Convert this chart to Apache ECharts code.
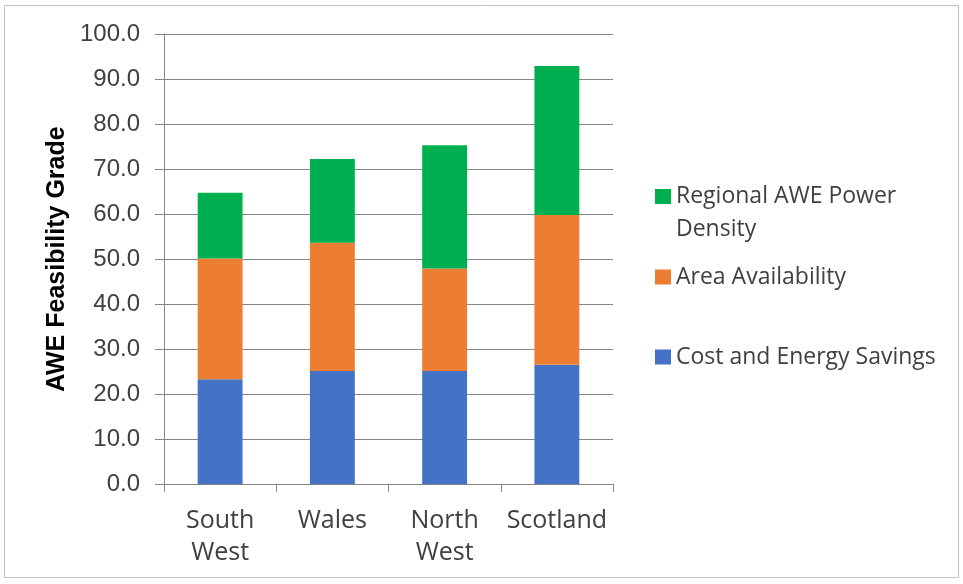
<!DOCTYPE html>
<html>
<head>
<meta charset="utf-8">
<script src="https://cdn.jsdelivr.net/npm/echarts@6/dist/echarts.min.js"></script>
<style>html,body{margin:0;padding:0;background:#fff;}#c{width:963px;height:584px;}</style>
</head>
<body>
<div id="c"></div>
<script>
const categories = ['South\nWest', 'Wales', 'North\nWest', 'Scotland'];
const costEnergy = [23.3, 25.1, 25.1, 26.5];
const areaAvail = [26.8, 28.5, 22.8, 33.3];
const powerDensity = [14.6, 18.6, 27.4, 33.1];
const yTicks = { min: 0, max: 100, interval: 10 };

const chart = echarts.init(document.getElementById('c'));
const legendText = { fontFamily: 'Open Sans', fontSize: 23, color: '#404040', lineHeight: 33 };
const legendBase = { left: 655, padding: 0, itemWidth: 16, itemHeight: 15, icon: 'rect', textStyle: legendText };
chart.setOption({
  animation: false,
  graphic: [{ type: 'rect', shape: { x: 4.5, y: 5.5, width: 954, height: 572 }, style: { fill: 'none', stroke: '#bfbfbf', lineWidth: 1 }, z: -1 }],
  grid: { left: 164, right: 350, top: 34, bottom: 100 },
  legend: [
    Object.assign({}, legendBase, { data: ['Regional AWE Power Density'], top: 147, formatter: () => '\nRegional AWE Power\nDensity' }),
    Object.assign({}, legendBase, { data: ['Area Availability'], top: 260.5 }),
    Object.assign({}, legendBase, { data: ['Cost and Energy Savings'], top: 340.5 })
  ],
  xAxis: {
    type: 'category', data: categories,
    axisLine: { lineStyle: { color: '#868686', width: 1 } },
    axisTick: { show: true, interval: 0, length: 8, lineStyle: { color: '#868686' } },
    axisLabel: { interval: 0, fontFamily: 'Open Sans', fontSize: 25, color: '#404040', lineHeight: 32, margin: 21 }
  },
  yAxis: {
    type: 'value', min: yTicks.min, max: yTicks.max, interval: yTicks.interval,
    name: 'AWE Feasibility Grade', nameLocation: 'middle', nameGap: 94,
    nameTextStyle: { fontFamily: 'Liberation Sans', fontWeight: 'bold', fontSize: 25, color: '#000' },
    axisLine: { show: true, lineStyle: { color: '#868686', width: 1 } },
    axisTick: { show: true, length: 9, lineStyle: { color: '#868686' } },
    splitLine: { lineStyle: { color: '#868686', width: 1 } },
    axisLabel: { fontFamily: 'Liberation Sans', fontSize: 24, color: '#404040', margin: 24, formatter: v => v.toFixed(1) }
  },
  series: [
    { name: 'Cost and Energy Savings', type: 'bar', stack: 't', data: costEnergy, barWidth: '40%', itemStyle: { color: '#4472C4' } },
    { name: 'Area Availability', type: 'bar', stack: 't', data: areaAvail, itemStyle: { color: '#ED7D31' } },
    { name: 'Regional AWE Power Density', type: 'bar', stack: 't', data: powerDensity, itemStyle: { color: '#00B050' } }
  ]
});
</script>
</body>
</html>
